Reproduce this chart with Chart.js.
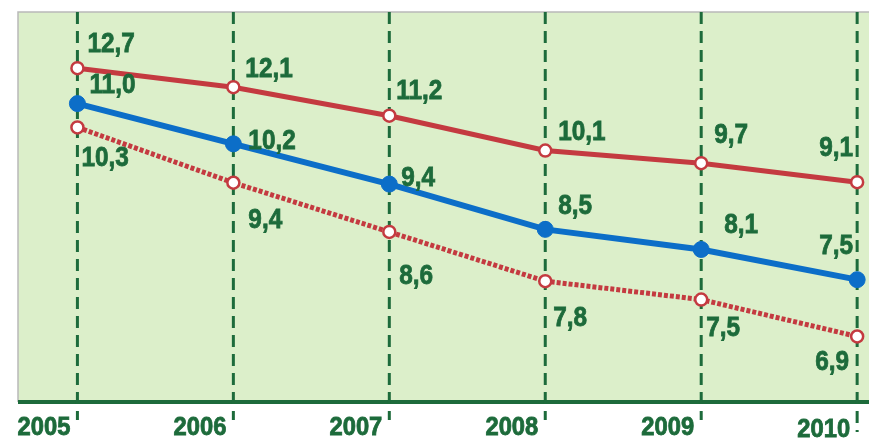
<!DOCTYPE html>
<html>
<head>
<meta charset="utf-8">
<script src="https://cdn.jsdelivr.net/npm/chart.js@4/dist/chart.umd.min.js"></script>
<style>
html,body{margin:0;padding:0;background:#ffffff;}
canvas{display:block;}
</style>
</head>
<body>
<canvas id="c" width="878" height="439"></canvas>
<script>
// ---- data ----
const years = [2005, 2006, 2007, 2008, 2009, 2010];
const yearLabels = ['2005', '2006', '2007', '2008', '2009', '2010'];
const seriesTop = [12.7, 12.1, 11.2, 10.1, 9.7, 9.1];
const seriesMid = [11.0, 10.2, 9.4, 8.5, 8.1, 7.5];
const seriesLow = [10.3, 9.4, 8.6, 7.8, 7.5, 6.9];

// ---- label placement styles (offsets from each point, px) ----
const labelOffTop = [[10,-24,'left'],[12,-18,'left'],[7,-24,'left'],[13,-18,'left'],[13,-28,'left'],[-4,-34,'right']];
const labelOffMid = [[12,-18,'left'],[15,-3,'left'],[12,-6,'left'],[13,-23,'left'],[23,-24,'left'],[-4,-33,'right']];
const labelOffLow = [[4,31,'left'],[15,38,'left'],[10,44,'left'],[8,37,'left'],[5,29,'left'],[-8,26,'right']];

const GREEN_BG = '#dcefca';
const DARK_GREEN = '#1d6b3b';
const RED = '#c43a40';
const BLUE = '#0c6ec8';
const NUM_FONT = 'bold 28px "Liberation Sans", Arial, sans-serif';
const YEAR_FONT = 'bold 25px "Liberation Sans", Arial, sans-serif';

const toPts = (vals) => years.map((yr, i) => ({x: yr, y: vals[i]}));
const fmt = (v) => v.toFixed(1).replace('.', ',');

function heavyText(ctx, text, x, y, sx) {
  ctx.save();
  ctx.translate(x, y);
  ctx.scale(sx, 1);
  ctx.fillText(text, 0, 0);
  ctx.strokeText(text, 0, 0);
  ctx.restore();
}

const decor = {
  id: 'decor',
  beforeDraw(chart) {
    const {ctx, chartArea: a} = chart;
    ctx.save();
    ctx.fillStyle = GREEN_BG;
    ctx.fillRect(a.left, a.top, a.right - a.left, a.bottom - a.top);
    ctx.strokeStyle = '#b9b9b9';
    ctx.lineWidth = 1.5;
    ctx.beginPath();
    ctx.moveTo(a.left, a.bottom);
    ctx.lineTo(a.left, a.top);
    ctx.lineTo(a.right, a.top);
    ctx.stroke();
    ctx.restore();
  },
  beforeDatasetsDraw(chart) {
    const {ctx, chartArea: a, scales} = chart;
    ctx.save();
    ctx.strokeStyle = DARK_GREEN;
    ctx.lineWidth = 4;
    ctx.beginPath();
    ctx.moveTo(a.left, a.bottom);
    ctx.lineTo(a.right, a.bottom);
    ctx.stroke();
    ctx.lineWidth = 3;
    ctx.setLineDash([12, 7]);
    years.forEach((yr, i) => {
      const x = scales.x.getPixelForValue(yr);
      ctx.beginPath();
      ctx.moveTo(x, a.top);
      ctx.lineTo(x, a.bottom + (i === years.length - 1 ? 30 : 18));
      ctx.stroke();
    });
    ctx.setLineDash([]);
    ctx.fillStyle = DARK_GREEN;
    ctx.strokeStyle = DARK_GREEN;
    ctx.lineWidth = 0.8;
    ctx.font = YEAR_FONT;
    ctx.textAlign = 'right';
    ctx.textBaseline = 'alphabetic';
    years.forEach((yr, i) => {
      const x = scales.x.getPixelForValue(yr);
      heavyText(ctx, yearLabels[i], x - 7, i === years.length - 1 ? 437 : 435, 0.95);
    });
    ctx.restore();
  },
  afterDatasetsDraw(chart) {
    const {ctx} = chart;
    const offs = [labelOffTop, labelOffMid, labelOffLow];
    ctx.save();
    ctx.fillStyle = DARK_GREEN;
    ctx.strokeStyle = DARK_GREEN;
    ctx.lineWidth = 0.8;
    ctx.font = NUM_FONT;
    ctx.textBaseline = 'middle';
    chart.data.datasets.forEach((ds, di) => {
      const meta = chart.getDatasetMeta(di);
      meta.data.forEach((pt, i) => {
        const [dx, dy, al] = offs[di][i];
        ctx.textAlign = al;
        heavyText(ctx, fmt(ds.data[i].y), pt.x + dx, pt.y + dy, 0.87);
      });
    });
    ctx.restore();
  }
};

new Chart(document.getElementById('c'), {
  type: 'line',
  data: {
    datasets: [
      {
        data: toPts(seriesTop), yAxisID: 'yTop',
        borderColor: RED, borderWidth: 5,
        pointRadius: 6, pointBackgroundColor: '#ffffff',
        pointBorderColor: RED, pointBorderWidth: 2.5,
        tension: 0
      },
      {
        data: toPts(seriesMid), yAxisID: 'yMid',
        borderColor: BLUE, borderWidth: 6,
        pointRadius: 8, pointBackgroundColor: BLUE,
        pointBorderColor: BLUE, pointBorderWidth: 1,
        tension: 0
      },
      {
        data: toPts(seriesLow), yAxisID: 'yLow',
        borderColor: RED, borderWidth: 5, borderDash: [4, 2],
        pointRadius: 6, pointBackgroundColor: '#ffffff',
        pointBorderColor: RED, pointBorderWidth: 2.5,
        tension: 0
      }
    ]
  },
  options: {
    responsive: false,
    animation: false,
    devicePixelRatio: 1,
    layout: {padding: {left: 18, top: 12, right: 0, bottom: 37}},
    plugins: {legend: {display: false}, tooltip: {enabled: false}},
    scales: {
      x: {type: 'linear', min: 2004.619, max: 2010.076, display: false},
      yTop: {type: 'linear', min: 2.157, max: 14.475, display: false},
      yMid: {type: 'linear', min: 5.068, max: 12.821, display: false},
      yLow: {type: 'linear', min: 5.835, max: 12.176, display: false}
    }
  },
  plugins: [decor]
});
</script>
</body>
</html>
